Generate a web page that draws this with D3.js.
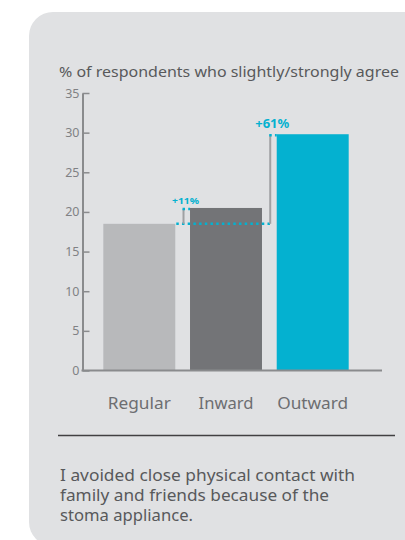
<!DOCTYPE html>
<html>
<head>
<meta charset="utf-8">
<script src="https://cdn.jsdelivr.net/npm/d3@7"></script>
<style>
  html, body { margin: 0; padding: 0; background: #ffffff; }
  svg { display: block; }
  text { font-family: "Noto Sans", "Open Sans", sans-serif; }
</style>
</head>
<body>
<svg id="chart" width="405" height="540"></svg>
<script>
const categories = ["Regular", "Inward", "Outward"];
const values = [18.5, 20.5, 29.8];
const barColors = ["#b8b9bb", "#737477", "#04b1d0"];
const yTicks = [0, 5, 10, 15, 20, 25, 30, 35];
const title = "% of respondents who slightly/strongly agree";
const caption = [
  "I avoided close physical contact with",
  "family and friends because of the",
  "stoma appliance."
];

const svg = d3.select("#chart");
const accent = "#04b1d0";

// card background
svg.append("rect")
  .attr("x", 29).attr("y", 12)
  .attr("width", 420).attr("height", 534)
  .attr("rx", 24).attr("ry", 24)
  .attr("fill", "#e0e1e3");

svg.append("text")
  .attr("x", 59).attr("y", 77)
  .attr("font-size", 15)
  .attr("fill", "#58595b")
  .attr("textLength", 340)
  .attr("lengthAdjust", "spacingAndGlyphs")
  .text(title);

const x0 = 82.5;
const y = d3.scaleLinear().domain([0, 35]).range([370.5, 93]);
const x = d3.scaleBand().domain(categories)
  .range([x0, 369.5]).paddingInner(0.17).paddingOuter(0.24);

// y axis
const yAxis = d3.axisLeft(y).tickValues(yTicks).tickSizeInner(-7).tickSizeOuter(0).tickPadding(3);
const gy = svg.append("g").attr("transform", `translate(${x0},0)`).call(yAxis);
gy.select(".domain").attr("stroke", "#8a8b8d").attr("stroke-width", 2);
gy.selectAll(".tick line").attr("stroke", "#8a8b8d").attr("stroke-width", 1.5);
gy.selectAll(".tick text").attr("font-size", 12.5).attr("fill", "#808184")
  .style("font-family", "'Noto Sans', sans-serif");

// bars
svg.selectAll("rect.bar").data(categories).enter().append("rect")
  .attr("class", "bar")
  .attr("x", d => x(d))
  .attr("y", (d, i) => y(values[i]))
  .attr("width", x.bandwidth())
  .attr("height", (d, i) => y(0) - y(values[i]))
  .attr("fill", (d, i) => barColors[i]);

// baseline
svg.append("line")
  .attr("x1", x0 - 1).attr("x2", 382)
  .attr("y1", y(0)).attr("y2", y(0))
  .attr("stroke", "#8a8b8d").attr("stroke-width", 2);

// x labels
const labelWidths = { Regular: 63, Inward: 55, Outward: 71 };
svg.selectAll("text.xl").data(categories).enter().append("text")
  .attr("class", "xl")
  .attr("x", d => x(d) + x.bandwidth() / 2)
  .attr("y", 409)
  .attr("text-anchor", "middle")
  .attr("font-size", 15.5)
  .attr("fill", "#6d6e71")
  .attr("textLength", d => labelWidths[d])
  .attr("lengthAdjust", "spacingAndGlyphs")
  .text(d => d);

// increase markers relative to Regular
const baseY = y(values[0]);
const gap = 6.5;
const markers = [1, 2].map(i => ({
  i,
  lx: x(categories[i]) - gap,
  pct: "+" + Math.round((values[i] / values[0] - 1) * 100) + "%",
  size: i === 1 ? 9.5 : 11.5,
  w: i === 1 ? 27 : 34
}));

// dotted reference line from top of Regular bar
svg.append("line")
  .attr("x1", x(categories[0]) + x.bandwidth() + 1)
  .attr("x2", markers[1].lx + 1)
  .attr("y1", baseY).attr("y2", baseY)
  .attr("stroke", accent).attr("stroke-width", 2.5)
  .attr("stroke-dasharray", "2.5 3.2");

markers.forEach(m => {
  const topY = y(values[m.i]);
  svg.append("line")
    .attr("x1", m.lx).attr("x2", m.lx)
    .attr("y1", topY + 1).attr("y2", baseY)
    .attr("stroke", "#a0a1a3").attr("stroke-width", 2);
  svg.append("line")
    .attr("x1", m.lx - 1).attr("x2", x(categories[m.i]))
    .attr("y1", topY + 1).attr("y2", topY + 1)
    .attr("stroke", accent).attr("stroke-width", 2.5)
    .attr("stroke-dasharray", "2.5 3.2");
  svg.append("text")
    .attr("x", m.lx + 2)
    .attr("y", topY - (m.i === 1 ? 4 : 6))
    .attr("text-anchor", "middle")
    .attr("font-size", m.size)
    .attr("font-weight", "bold")
    .attr("fill", accent)
    .attr("textLength", m.w)
    .attr("lengthAdjust", "spacingAndGlyphs")
    .text(m.pct);
});

// separator
svg.append("line")
  .attr("x1", 58).attr("x2", 395)
  .attr("y1", 435.5).attr("y2", 435.5)
  .attr("stroke", "#414042").attr("stroke-width", 1.5);

// caption
const capWidths = [295, 269, 133];
svg.selectAll("text.cap").data(caption).enter().append("text")
  .attr("class", "cap")
  .attr("x", 60)
  .attr("y", (d, i) => 481 + i * 20)
  .attr("font-size", 16)
  .attr("fill", "#58595b")
  .attr("textLength", (d, i) => capWidths[i])
  .attr("lengthAdjust", "spacingAndGlyphs")
  .text(d => d);
</script>
</body>
</html>
